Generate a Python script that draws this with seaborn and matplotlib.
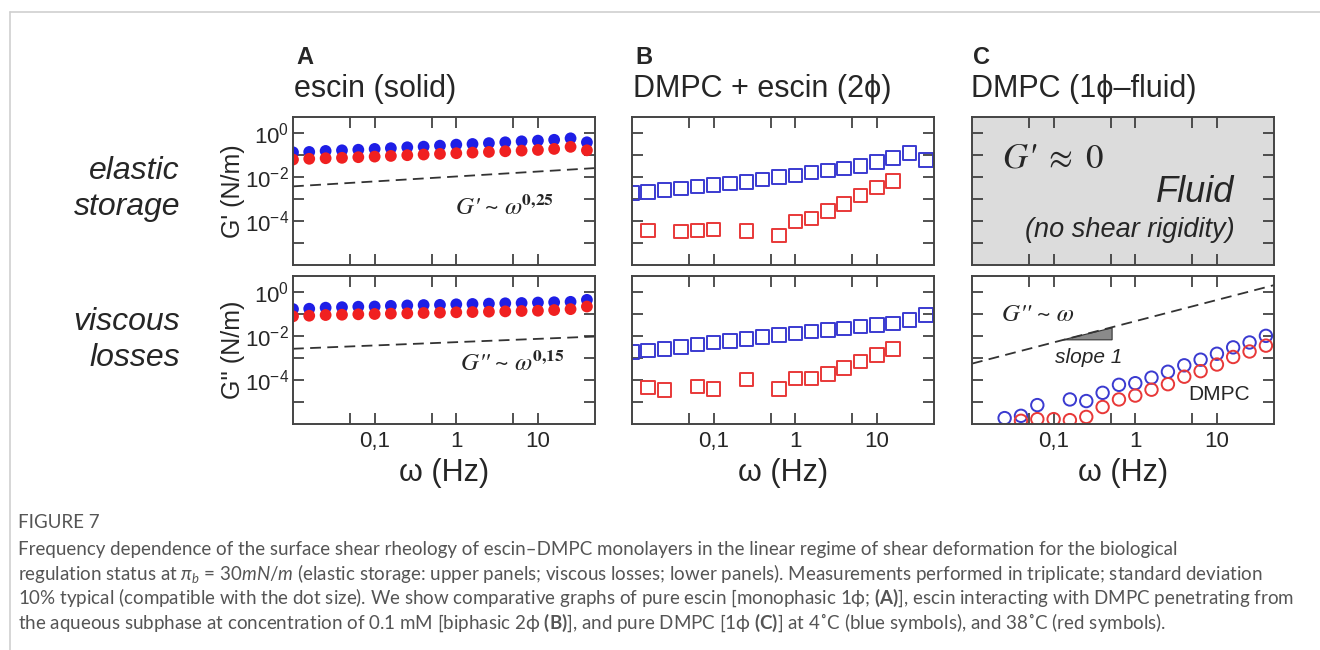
import numpy as np
import pandas as pd
import matplotlib.pyplot as plt
import seaborn as sns
from matplotlib.ticker import FixedLocator, FixedFormatter, NullFormatter
from matplotlib.lines import Line2D

# ---- data ----
# frequency grid (Hz), 5 points per decade
omega = [0.01, 0.0158, 0.0251, 0.0398, 0.0631, 0.1, 0.158, 0.251, 0.398, 0.631,
         1.0, 1.58, 2.51, 3.98, 6.31, 10.0, 15.8, 25.1, 39.8]

# A: escin (solid) -- filled dots
a_gp_4C = [0.13, 0.135, 0.15, 0.16, 0.17, 0.185, 0.20, 0.22, 0.235, 0.26,
           0.29, 0.31, 0.34, 0.37, 0.41, 0.44, 0.48, 0.56, 0.37]
a_gp_38C = [0.061, 0.066, 0.070, 0.073, 0.078, 0.083, 0.089, 0.096, 0.103, 0.11,
            0.118, 0.126, 0.135, 0.145, 0.155, 0.166, 0.185, 0.23, 0.16]
a_gpp_4C = [0.164, 0.17, 0.19, 0.20, 0.21, 0.215, 0.23, 0.24, 0.25, 0.255,
            0.27, 0.28, 0.29, 0.30, 0.31, 0.325, 0.335, 0.35, 0.43]
a_gpp_38C = [0.077, 0.082, 0.088, 0.091, 0.095, 0.098, 0.102, 0.105, 0.109, 0.113,
             0.117, 0.12, 0.125, 0.129, 0.134, 0.138, 0.148, 0.163, 0.214]

# B: DMPC + escin (2phi) -- open squares
b_gp_4C = [0.0018, 0.0021, 0.0026, 0.0030, 0.0036, 0.0043, 0.0051, 0.0060, 0.0077, 0.0098,
           0.0117, 0.0154, 0.0195, 0.024, 0.031, 0.047, 0.073, 0.122, 0.057]
b_gp_38C_x = [0.0158, 0.0398, 0.0631, 0.1, 0.251, 0.631, 1.0, 1.58, 2.51, 3.98, 6.31, 10.0, 15.8]
b_gp_38C = [3.7e-5, 3.3e-5, 3.7e-5, 4.0e-5, 3.5e-5, 2.2e-5, 9.3e-5, 1.3e-4, 2.9e-4,
            5.8e-4, 1.4e-3, 3.3e-3, 6.5e-3]
b_gpp_4C = [0.0019, 0.0022, 0.0026, 0.0032, 0.0040, 0.0049, 0.0060, 0.0074, 0.0087, 0.0107,
            0.013, 0.0155, 0.0185, 0.022, 0.026, 0.031, 0.037, 0.051, 0.086]
b_gpp_38C_x = [0.0158, 0.0251, 0.0631, 0.1, 0.251, 0.631, 1.0, 1.58, 2.51, 3.98, 6.31, 10.0, 15.8]
b_gpp_38C = [4.5e-5, 3.5e-5, 5.0e-5, 3.8e-5, 1.05e-4, 3.8e-5, 1.17e-4, 1.17e-4, 1.9e-4,
             3.5e-4, 6.9e-4, 1.35e-3, 2.5e-3]

# C: DMPC (1phi-fluid) -- open circles, loss modulus only
c_gpp_4C_x = [0.0251, 0.0398, 0.0631, 0.158, 0.251, 0.398, 0.631, 1.0, 1.58, 2.51,
              3.98, 6.31, 10.0, 15.8, 25.1, 39.8]
c_gpp_4C = [1.85e-6, 2.35e-6, 7.2e-6, 1.3e-5, 1.1e-5, 2.6e-5, 6.0e-5, 7.1e-5, 1.27e-4, 2.35e-4,
            4.6e-4, 8.3e-4, 1.54e-3, 3.0e-3, 5.0e-3, 1.0e-2]
c_gpp_38C_x = [0.0398, 0.0631, 0.1, 0.158, 0.251, 0.398, 0.631, 1.0, 1.58, 2.51,
               3.98, 6.31, 10.0, 15.8, 25.1, 39.8]
c_gpp_38C = [1.4e-6, 1.66e-6, 1.66e-6, 1.5e-6, 2.1e-6, 5.9e-6, 1.3e-5, 1.95e-5, 3.6e-5, 6.4e-5,
             1.4e-4, 2.5e-4, 5.0e-4, 1.1e-3, 1.95e-3, 3.6e-3]

# power-law guide lines (end points)
fit_x = [0.01, 50]
a_gp_fit = [0.0037, 0.025]     # ~ w^0.25
a_gpp_fit = [0.0026, 0.0093]   # ~ w^0.15
c_gpp_fit = [5.5e-4, 2.0]      # ~ w
slope_tri_x = [0.13, 0.52, 0.52]
slope_tri_y = [0.0066, 0.023, 0.0066]

x_ticks = [0.1, 1, 10]
x_tick_labels = ["0,1", "1", "10"]
y_ticks = [1e0, 1e-2, 1e-4]
y_tick_labels = ["$10^{0}$", "$10^{-2}$", "$10^{-4}$"]

BLUE = "#1e1ee6"
RED = "#f02020"
BLUE_O = "#3a3ad0"
RED_O = "#e83838"

sns.set_style("ticks")
plt.rcParams["font.family"] = ["Liberation Sans", "DejaVu Sans"]
plt.rcParams["mathtext.default"] = "regular"
plt.rcParams["mathtext.fontset"] = "custom"
plt.rcParams["mathtext.rm"] = "Lato"
plt.rcParams["mathtext.it"] = "Lato:italic"
plt.rcParams["mathtext.bf"] = "Lato:bold"

W, H = 1320, 650
fig = plt.figure(figsize=(13.2, 6.5), dpi=100)


def px_axes(x0, y0, x1, y1):
    return fig.add_axes([x0 / W, 1 - y1 / H, (x1 - x0) / W, (y1 - y0) / H])


def style(ax, xlabels, ylabels):
    ax.set_xscale("log")
    ax.set_yscale("log")
    ax.set_xlim(0.01, 50)
    ax.set_ylim(1e-6, 5.2)
    ax.xaxis.set_major_locator(FixedLocator(x_ticks))
    ax.xaxis.set_minor_locator(FixedLocator([0.05, 0.5, 5]))
    ax.yaxis.set_major_locator(FixedLocator(y_ticks))
    ax.yaxis.set_minor_locator(FixedLocator([1e-1, 1e-3, 1e-5]))
    ax.xaxis.set_minor_formatter(NullFormatter())
    ax.yaxis.set_minor_formatter(NullFormatter())
    if xlabels:
        ax.xaxis.set_major_formatter(FixedFormatter(x_tick_labels))
        ax.set_xlabel("ω (Hz)", fontsize=22, labelpad=4)
    else:
        ax.xaxis.set_major_formatter(NullFormatter())
    if ylabels:
        ax.yaxis.set_major_formatter(FixedFormatter(y_tick_labels))
    else:
        ax.yaxis.set_major_formatter(NullFormatter())
    ax.tick_params(which="both", direction="in", top=True, right=True,
                   length=8, width=1.2, color="#333333", labelsize=16, pad=3)
    ax.tick_params(axis="x", pad=5)
    for s in ax.spines.values():
        s.set_color("#444444")
        s.set_linewidth(1.4)


cols = [293, 632, 972]
rows = [(117, 265), (276, 424)]
axs = [[px_axes(c, r[0], c + 302, r[1]) for c in cols] for r in rows]
for i in range(2):
    for j in range(3):
        style(axs[i][j], xlabels=(i == 1), ylabels=(j == 0))
        axs[i][j].set_facecolor("white")

dash = (0, (6, 3.5))
stix_it = dict(family=["STIXGeneral", "DejaVu Serif"], style="italic", math_fontfamily="stix")

# ---- panel A ----
ax = axs[0][0]
sns.lineplot(x=fit_x, y=a_gp_fit, ax=ax, color="#333333", lw=1.3, linestyle=dash)
sns.scatterplot(x=omega, y=a_gp_4C, ax=ax, color=BLUE, s=72, edgecolor="none")
sns.scatterplot(x=omega, y=a_gp_38C, ax=ax, color=RED, s=72, edgecolor="none")
ax.text(0.536, 0.385, "G' ~ ω$^{\\mathbf{0{,}25}}$", transform=ax.transAxes,
        fontsize=18, va="center", ha="left", **stix_it)
ax.set_ylabel("G' (N/m)", fontsize=18)
ax.yaxis.set_label_coords(-0.16, 0.5)

ax = axs[1][0]
sns.lineplot(x=fit_x, y=a_gpp_fit, ax=ax, color="#333333", lw=1.3, linestyle=dash)
sns.scatterplot(x=omega, y=a_gpp_4C, ax=ax, color=BLUE, s=72, edgecolor="none")
sns.scatterplot(x=omega, y=a_gpp_38C, ax=ax, color=RED, s=72, edgecolor="none")
ax.text(0.553, 0.41, "G'' ~ ω$^{\\mathbf{0{,}15}}$", transform=ax.transAxes,
        fontsize=18, va="center", ha="left", **stix_it)
ax.set_ylabel("G'' (N/m)", fontsize=18)
ax.yaxis.set_label_coords(-0.16, 0.5)

# ---- panel B ----
sq = dict(marker="s", s=95, facecolor="none", linewidth=1.4)
ax = axs[0][1]
sns.scatterplot(x=omega, y=b_gp_4C, ax=ax, color=BLUE_O, edgecolor=BLUE_O, **sq)
sns.scatterplot(x=b_gp_38C_x, y=b_gp_38C, ax=ax, color=RED_O, edgecolor=RED_O, **sq)
ax = axs[1][1]
sns.scatterplot(x=omega, y=b_gpp_4C, ax=ax, color=BLUE_O, edgecolor=BLUE_O, **sq)
sns.scatterplot(x=b_gpp_38C_x, y=b_gpp_38C, ax=ax, color=RED_O, edgecolor=RED_O, **sq)

# ---- panel C ----
ax = axs[0][2]
ax.set_facecolor("#dcdcdc")
ax.text(0.10, 0.72, "G' $\\approx$ $\\mathrm{0}$", transform=ax.transAxes,
        fontsize=25, va="center", ha="left", **stix_it)
ax.text(0.87, 0.49, "Fluid", transform=ax.transAxes, fontsize=26, style="italic",
        va="center", ha="right")
ax.text(0.87, 0.236, "(no shear rigidity)", transform=ax.transAxes, fontsize=19.5,
        style="italic", va="center", ha="right")

ax = axs[1][2]
ci = dict(marker="o", s=80, facecolor="none", linewidth=1.4)
sns.lineplot(x=fit_x, y=c_gpp_fit, ax=ax, color="#333333", lw=1.3, linestyle=dash)
ax.fill(slope_tri_x, slope_tri_y, facecolor="#8a8a8a", edgecolor="#333333", lw=0.8)
sns.scatterplot(x=c_gpp_4C_x, y=c_gpp_4C, ax=ax, color=BLUE_O, edgecolor=BLUE_O, **ci)
sns.scatterplot(x=c_gpp_38C_x, y=c_gpp_38C, ax=ax, color=RED_O, edgecolor=RED_O, **ci)
ax.text(0.10, 0.736, "G'' ~ ω", transform=ax.transAxes,
        fontsize=18, va="center", ha="left", **stix_it)
ax.text(0.275, 0.446, "slope 1", transform=ax.transAxes, fontsize=15,
        style="italic", va="center", ha="left")
ax.text(0.715, 0.196, "DMPC", transform=ax.transAxes, fontsize=15,
        va="center", ha="left")

# ---- labels around the panels ----
for x0, letter, title in [(296, "A", "escin (solid)"),
                          (635, "B", "DMPC + escin (2\u03d5)"),
                          (973, "C", "DMPC (1\u03d5\u2013fluid)")]:
    fig.text(x0 / W, 1 - 57 / H, letter, fontsize=17, fontweight="bold",
             ha="left", va="center")
    fig.text((x0 - 2) / W, 1 - 89 / H, title, fontsize=22, ha="left", va="center")

fig.text(180 / W, 1 - 189 / H, "elastic\nstorage", fontsize=23, style="italic",
         ha="right", va="center", multialignment="right", linespacing=1.3)
fig.text(180 / W, 1 - 340 / H, "viscous\nlosses", fontsize=23, style="italic",
         ha="right", va="center", multialignment="right", linespacing=1.3)

# ---- caption ----
cap_kw = dict(fontsize=13.5, color="#555555", ha="left", va="center",
              family=["Lato", "DejaVu Sans"])
fig.text(18 / W, 1 - 523 / H, "FIGURE 7", **cap_kw)
caption = [
    "Frequency dependence of the surface shear rheology of escin\u2013DMPC monolayers "
    "in the linear regime of shear deformation for the biological",
    "regulation status at $\\mathit{\\pi_b}$ = 30$\\mathit{mN/m}$ (elastic storage: upper panels; "
    "viscous losses; lower panels). Measurements performed in triplicate; standard deviation",
    "10% typical (compatible with the dot size). We show comparative graphs of pure escin "
    "[monophasic 1\u03d5; $\\mathbf{(A)}$], escin interacting with DMPC penetrating from",
    "the aqueous subphase at concentration of 0.1 mM [biphasic 2\u03d5 $\\mathbf{(B)}$], "
    "and pure DMPC [1\u03d5 $\\mathbf{(C)}$] at 4\u02daC (blue symbols), and 38\u02daC (red symbols).",
]
for k, line in enumerate(caption):
    fig.text(18 / W, 1 - (549 + 24.5 * k) / H, line, **cap_kw)

# frame lines
fig.add_artist(Line2D([10 / W, 10 / W], [0, 1 - 12 / H], color="#cfcfcf", lw=1.2))
fig.add_artist(Line2D([10 / W, 1], [1 - 12 / H, 1 - 12 / H], color="#cfcfcf", lw=1.2))

fig.savefig("out.png", dpi=100)
